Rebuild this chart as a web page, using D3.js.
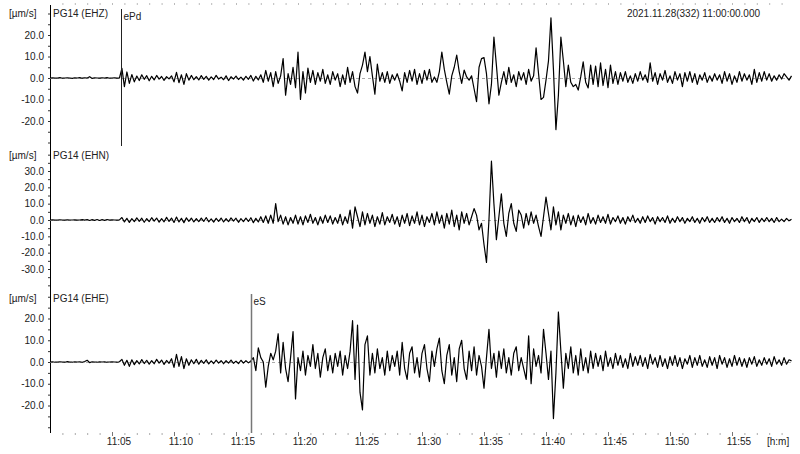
<!DOCTYPE html>
<html>
<head>
<meta charset="utf-8">
<style>
    body { margin: 0; background: #fff; }
    svg { font-family: "Liberation Sans", Arial, sans-serif; font-size: 10px; }
    .trace { fill: none; stroke: #000; stroke-width: 1.2; stroke-linejoin: round; }
    .zero { stroke: #aaa; stroke-dasharray: 3,3; }
    .domain { display: none; }
    text { fill: #222; }
</style>
</head>
<body>
<script src="https://d3js.org/d3.v7.min.js"></script>
<script>

    var station = "PG14";
    var channels = ["EHZ", "EHN", "EHE"];
    var unitLabel = "[\u00b5m/s]";
    var startLabel = "2021.11.28(332) 11:00:00.000";
    var dt = 0.2; // minutes between samples, first sample at 11:00

    var ehz = [0,0.1,-0.1,0,0.2,-0.1,0,0.1,0,-0.2, 0.1,0,0.2,-0.1,0.1,0,0.6,-0.2,0.1,0, -0.1,0.1,0,0.2,-0.1,0,0.1,-0.1,0,
        4.5,-4,2.8,-2.5,1.6,-1.8,0.9,-1.2,1.5,-0.6,1.1,
        -1.3,0.8,-0.9,1.2,-0.5,0.7,-1.1,0.6,-0.4,1.0,
        -1.8,2.6,-2.2,1.5,-3.0,2.0,-1.0,1.2,-0.8,0.6,
        -0.9,1.1,-0.6,0.8,-1.0,0.5,-0.7,1.2,-0.5,0.4,
        -0.8,1.0,-1.2,0.6,-0.5,0.9,-0.7,0.4,-1.0,0.8,
        -0.6,1.2,-1.4,0.8,-0.9,1.5,-2.0,3.5,-1.5,2.5,
        -4.0,3.0,-2.5,1.0,9.0,-8.0,2.0,-3.0,5.0,-4.5,
        12.0,-10.0,3.0,-7.0,4.6,-2.0,3.5,-3.0,2.5,-1.5,
        4.0,-2.5,1.5,-3.0,3.0,-1.0,2.0,-4.0,1.5,-3.0,
        5.0,-2.0,3.0,-4.0,-7.0,2.0,6.0,12.0,3.0,10.0,
        1.0,-7.5,6.5,-1.5,2.5,-2.0,3.0,-2.5,1.5,-1.0,
        2.0,-1.5,-6.0,2.5,-2.0,3.5,-1.5,4.0,-3.0,2.0,
        -2.5,3.5,-1.0,4.0,-2.0,0.5,-2.0,3.0,12.0,4.0,
        -2.0,-7.5,1.0,5.0,10.7,3.0,-2.5,3.7,0.5,-1.0,
        1.0,-5.0,-11.0,5.0,9.0,9.5,2.0,-12.0,-3.0,19.0,
        6.0,-8.0,-2.0,3.0,-3.0,5.0,-2.0,1.5,-4.0,3.0,
        -1.0,2.5,-3.0,4.0,-1.5,1.0,14.0,2.0,-10.0,-9.0,
        -1.0,8.0,28.0,4.0,-24.0,-8.0,19.0,8.0,-4.0,6.0,
        -2.0,-4.0,-3.0,-5.6,0.5,7.5,-2.0,-4.6,6.0,-3.0,
        5.5,-4.0,7.0,-3.5,4.0,-4.5,6.0,-2.5,3.0,-3.0,
        2.5,-1.5,3.0,-2.0,1.0,-2.5,2.0,-1.5,3.0,-1.0,
        1.5,-2.0,7.0,-1.5,2.5,-3.0,2.0,-1.0,3.5,-2.0,
        1.0,-2.5,3.0,-1.0,2.0,-4.0,2.5,-1.5,3.0,-2.0,
        2.0,-3.0,1.5,-1.0,2.5,-2.0,1.0,-1.5,2.0,-1.0,
        1.5,-2.5,3.0,-1.5,2.0,-3.0,1.0,-2.0,3.0,-1.5,
        2.0,-1.0,1.5,-3.0,4.0,-2.0,2.5,-1.5,3.0,-1.0,
        2.0,-1.5,1.0,-1.0,1.5,-0.5,2.0,0.5,-1.0,1.0];

    var ehn = [0,0.1,-0.1,0,0.1,0,-0.1,0.1,0,0, 0.1,-0.1,0,0.2,-0.1,0.3,-0.3,0.2,-0.2,0.3, -0.3,0.2,-0.2,0.3,-0.1,0.1,0,-0.1,0.1,
        1.5,-1.2,1.0,-1.5,0.8,-1.0,1.3,-0.8,1.1,-1.4,0.9,
        -1.0,1.4,-0.7,1.2,-1.3,0.8,-1.1,1.6,-0.9,1.2,
        -1.5,1.8,-1.2,1.0,-1.6,1.3,-0.8,1.1,-1.2,0.9,
        -1.0,1.2,-0.9,1.5,-1.1,0.7,-1.3,1.0,-0.8,1.2,
        -1.2,0.9,-1.0,1.3,-0.7,1.1,-1.4,0.8,-1.0,1.2,
        -0.9,1.4,-1.6,1.0,-1.2,2.0,-1.5,2.5,-2.0,3.0,
        -2.0,10.0,-1.0,3.0,-2.5,2.0,-3.0,1.5,-2.0,3.0,
        -2.5,2.0,-3.0,2.5,-1.5,3.5,-2.0,1.5,-3.0,2.0,
        -2.0,3.0,-1.5,2.5,-2.5,1.5,-2.0,3.5,-3.0,2.0,
        -2.0,6.0,-5.0,8.0,2.0,-4.0,5.0,-3.0,4.0,-2.0,
        3.0,-4.0,2.0,-2.5,4.5,-3.0,2.0,-1.5,3.5,-2.5,
        2.0,-4.0,3.0,-2.0,4.0,-3.5,2.5,-2.0,5.0,-3.0,
        3.0,-4.0,2.0,-1.5,4.0,-3.0,5.0,-2.0,3.0,-5.0,
        4.0,-2.5,6.0,-4.0,3.0,-6.0,5.0,-2.0,4.0,-3.0,
        2.0,7.0,3.0,-6.0,-2.0,-15.0,-26.0,0.0,36.0,10.0,
        -12.0,2.0,16.0,-2.0,-10.0,4.0,10.0,-2.0,-7.0,6.0,
        3.0,-5.0,4.0,-3.0,5.0,-2.0,3.0,-4.0,-10.0,2.0,
        14.0,4.0,-6.0,8.0,-3.0,5.0,-6.0,3.0,-2.0,4.0,
        -3.0,2.5,-4.0,3.0,-1.5,2.0,-3.0,4.0,-2.0,1.5,
        -2.5,3.0,-1.5,2.0,-2.0,3.5,-2.5,1.5,-1.0,2.5,
        -2.0,1.5,-2.5,2.0,-1.0,3.0,-1.5,1.0,-2.0,2.0,
        -1.5,2.5,-1.0,1.5,-2.5,2.0,-1.0,1.5,-1.5,2.5,
        -2.0,1.0,-1.5,2.0,-1.0,1.5,-2.0,1.0,-1.0,2.0,
        -1.5,1.0,-2.0,1.5,-1.0,2.0,-1.5,1.0,-1.5,1.5,
        -1.0,2.0,-1.5,1.0,-2.0,1.5,-1.0,1.0,-1.5,2.0,
        -1.0,1.5,-2.0,1.0,-1.0,1.5,-1.5,1.0,-1.0,1.5,
        -1.0,1.0,-1.5,1.5,-1.0,0.5,-1.0,1.0,-0.5,0.5];

    var ehe = [0,0.1,-0.1,0,0.1,0,-0.1,0.2,0,-0.1, 0.1,0,0.1,-0.1,0.2,0.8,-0.3,0.1,0,-0.1, 0.1,0,0.1,-0.1,0,0.1,0,-0.1,0.1,
        1.2,-1.5,0.8,-2.0,1.0,-1.2,0.6,-0.9,1.1,-0.7,0.8,
        -1.0,0.6,-0.8,1.2,-0.5,0.9,-1.1,0.7,-0.6,1.5,
        -2.5,3.5,-2.0,2.5,-3.0,1.5,-1.5,1.0,-0.8,1.2,
        -1.0,0.8,-0.6,1.0,-0.9,0.5,-0.7,0.9,-0.5,0.6,
        -0.8,0.6,-0.5,0.9,-0.6,0.4,-0.7,0.8,-0.5,0.6,
        -0.4,0.5,2.0,-4.0,6.5,2.0,0.0,-11.6,-2.0,4.0,
        1.0,5.0,13.0,-5.0,9.0,-3.0,-9.0,2.0,14.0,-17.0,
        2.0,-4.0,5.0,-6.0,3.0,-2.0,8.0,-3.0,4.0,-7.0,
        2.0,6.0,-4.0,3.0,-5.0,4.0,-2.0,5.0,-6.0,3.0,
        -3.0,5.0,19.0,-8.0,17.0,-14.0,-22.0,8.0,12.0,-6.0,
        4.0,-5.0,6.0,-3.0,2.0,-6.0,5.0,-4.0,3.0,-2.0,
        5.0,-6.0,9.0,-3.0,-8.0,4.0,7.0,-5.0,2.0,-7.0,
        4.0,8.0,-3.0,-9.0,5.0,-2.0,6.0,11.0,-4.0,-10.0,
        3.0,8.0,-6.0,2.0,-9.0,6.0,10.0,-3.0,-8.0,5.0,
        -4.0,7.0,-6.0,3.0,-2.0,-12.0,2.0,15.0,-3.0,4.0,
        -7.0,5.0,-3.0,6.0,-5.0,2.0,-6.0,4.0,7.0,-4.0,
        2.0,-3.0,-8.0,12.0,-10.0,6.0,-2.0,3.0,-5.0,15.0,
        4.0,-8.0,5.0,-26.0,-5.0,23.0,5.0,-12.0,4.0,-3.0,
        7.0,-5.0,3.0,-6.0,6.0,-4.0,2.0,-5.0,5.0,-3.0,
        4.0,-2.0,3.0,-4.0,5.0,-2.0,2.0,-3.0,4.0,-1.5,
        3.0,-2.5,1.5,-3.0,4.0,-2.0,2.5,-1.5,3.0,-2.0,
        2.0,-3.0,3.5,-1.0,2.0,-2.5,3.0,-2.0,1.5,-3.0,
        2.5,-1.5,3.0,-2.0,2.0,-3.0,1.5,-1.0,3.0,-2.5,
        2.0,-1.5,3.0,-2.0,1.0,-2.5,2.5,-1.5,2.0,-3.0,
        3.0,-1.0,2.0,-2.5,1.5,-2.0,3.0,-1.5,2.0,-2.0,
        1.5,-2.5,2.0,-1.0,2.5,-2.0,1.0,-1.5,2.0,-1.0,
        1.5,-2.0,2.5,-1.0,1.0,-1.5,2.0,-1.0,1.0,0.5];

    var yLabels = [
        [-20, -10, 0, 10, 20],
        [-30, -20, -10, 0, 10, 20, 30],
        [-20, -10, 0, 10, 20]
    ];

    var pickNames = ["ePd", "eS"];
    var pickTimes = [5.73, 16.2];   // minutes after 11:00
    var pickChannel = [0, 2];

    var timeTicks = [5, 10, 15, 20, 25, 30, 35, 40, 45, 50, 55];

    var traces = [ehz, ehn, ehe];

    var svg = d3.select("body").append("svg")
        .attr("width", 800)
        .attr("height", 454);

    var x = d3.scaleLinear().domain([0, 60]).range([50, 794]);

    var panels = [
        { top: 5,   bottom: 146, y: d3.scaleLinear().domain([-20, 20]).range([121, 35]) },
        { top: 147, bottom: 289, y: d3.scaleLinear().domain([-30, 30]).range([269, 171]) },
        { top: 290, bottom: 433, y: d3.scaleLinear().domain([-20, 20]).range([405.5, 318.5]) }
    ];

    // left frame line
    svg.append("line")
        .attr("x1", 50.5).attr("x2", 50.5)
        .attr("y1", 5).attr("y2", 433)
        .attr("stroke", "#000");

    panels.forEach(function(p, k) {
        var y = p.y;
        var g = svg.append("g");

        // zero line
        g.append("line")
            .attr("class", "zero")
            .attr("x1", x(0)).attr("x2", x(60))
            .attr("y1", Math.round(y(0)) + 0.5).attr("y2", Math.round(y(0)) + 0.5);

        // minor ticks every 5 units over the whole band
        var lo = Math.ceil(y.invert(p.bottom) / 5) * 5,
            hi = y.invert(p.top);
        var minor = d3.range(lo, hi, 5);
        g.append("g")
            .attr("transform", "translate(50,0)")
            .attr("color", "#333")
            .call(d3.axisLeft(y).tickValues(minor).tickSize(2).tickFormat(""));

        g.append("g")
            .attr("transform", "translate(50,0)")
            .attr("color", "#222")
            .call(d3.axisLeft(y).tickValues(yLabels[k]).tickSize(0).tickPadding(6)
                .tickFormat(function(d) { return d.toFixed(1); }))
            .attr("font-family", null)
            .attr("font-size", null);

        g.append("text")
            .attr("x", 9).attr("y", p.top + 12)
            .text(unitLabel);

        g.append("text")
            .attr("x", 53).attr("y", p.top + 12)
            .text(station + " (" + channels[k] + ")");

        var line = d3.line()
            .x(function(d, i) { return x(i * dt); })
            .y(function(d) { return y(d); });

        g.append("path")
            .attr("class", "trace")
            .attr("d", line(traces[k]));
    });

    // phase picks
    pickNames.forEach(function(name, j) {
        var p = panels[pickChannel[j]];
        var px = Math.round(x(pickTimes[j])) + 0.5;
        svg.append("line")
            .attr("x1", px).attr("x2", px)
            .attr("y1", p.top + 4).attr("y2", p.bottom)
            .attr("stroke", j == 0 ? "#222" : "#777")
            .attr("stroke-width", j == 0 ? 1 : 1.5);
        svg.append("text")
            .attr("x", px + 2).attr("y", p.top + 15)
            .text(name);
    });

    svg.append("text")
        .attr("x", 760).attr("y", 17)
        .attr("text-anchor", "end")
        .text(startLabel);

    // time axis
    var minutes = d3.range(1, 60);
    svg.append("g")
        .attr("transform", "translate(0,433)")
        .attr("color", "#aaa")
        .call(d3.axisBottom(x).tickValues(minutes).tickSize(2).tickFormat(""));
    svg.append("g")
        .attr("transform", "translate(0,3)")
        .attr("color", "#bbb")
        .call(d3.axisBottom(x).tickValues(minutes).tickSize(2).tickFormat(""));

    var xAxis = svg.append("g")
        .attr("transform", "translate(0,432)")
        .attr("color", "#777")
        .call(d3.axisBottom(x).tickValues(timeTicks).tickSize(4).tickPadding(2)
            .tickFormat(function(d) { return "11:" + d3.format("02")(d); }))
        .attr("font-family", null)
        .attr("font-size", null);
    xAxis.selectAll("text").attr("dx", 6.5).style("fill", "#222");

    svg.append("text")
        .attr("x", 767).attr("y", 445)
        .text("[h:m]");

</script>
</body>
</html>
